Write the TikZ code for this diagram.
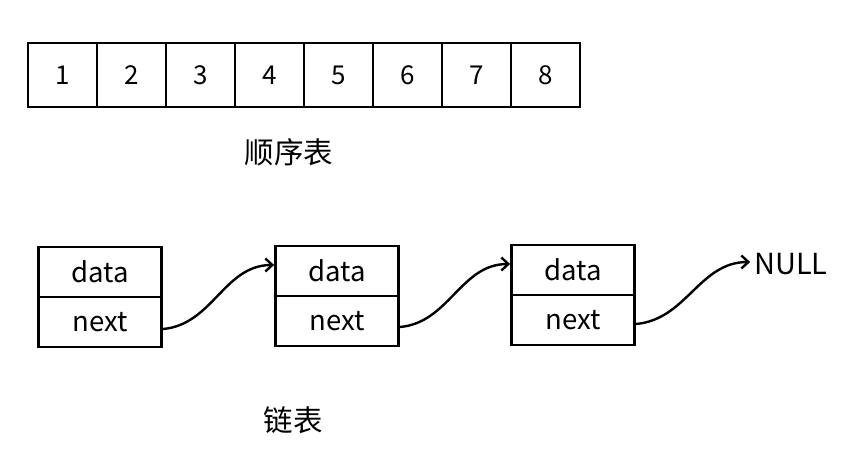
\documentclass[tikz,border=0pt]{standalone}
\usepackage{fontspec}
\setmainfont{Noto Sans CJK SC}
\usetikzlibrary{arrows.meta}
\tikzstyle{cell}=[draw, line width=2.8pt, minimum width=69pt, minimum height=64pt, inner sep=0pt, font=\fontsize{26}{30}\selectfont]
\tikzstyle{field}=[draw, line width=2.8pt, minimum width=123pt, minimum height=50pt, inner sep=0pt, outer sep=0pt, font=\fontsize{27.5}{30}\selectfont]
\tikzstyle{link}=[line width=2.4pt, -{Straight Barb[length=7pt, width=13pt, line width=2.4pt]}]

\begin{document}
\begin{tikzpicture}[x=1pt, y=-1pt]
        \useasboundingbox (0,0) rectangle (858,461);
        % array of eight cells
        \foreach \i in {1,...,8} {
            \node[cell] (a\i) at (28+69*\i-34.5, 75) {\i};
        }
        \node (seq) at (289,152) {\fontsize{29.5}{32}\selectfont 顺序表};

        % three list nodes, each a data field over a next field
        \node[field] (d1) at (100,272) {data};
        \node[field, anchor=north] (n1) at (d1.south) {next};
        \node[field] (d2) at (337,271) {data};
        \node[field, anchor=north] (n2) at (d2.south) {next};
        \node[field] (d3) at (573,270) {data};
        \node[field, anchor=north] (n3) at (d3.south) {next};
        \node[inner sep=4pt] (null) at (791,264) {\fontsize{29}{32}\selectfont NULL};

        % links
        \draw[link] ([xshift=1.4pt, yshift=-7pt]n1.east) to[out=5, in=180] ([xshift=-1.4pt, yshift=6pt]d2.west);
        \draw[link] ([xshift=1.4pt, yshift=-6pt]n2.east) to[out=5, in=180] ([xshift=-1.4pt, yshift=6pt]d3.west);
        \draw[link] ([xshift=1.4pt, yshift=-4pt]n3.east) to[out=5, in=180] ([yshift=2pt]null.west);

        \node (list) at (293,420) {\fontsize{29.5}{32}\selectfont 链表};
    \end{tikzpicture}
\end{document}
